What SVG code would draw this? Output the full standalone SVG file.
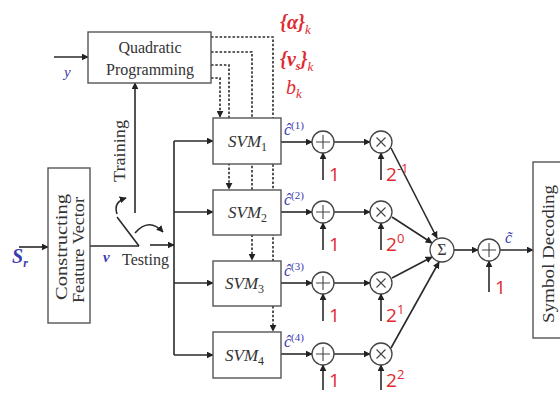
<svg xmlns="http://www.w3.org/2000/svg" width="560" height="396" viewBox="0 0 560 396">
<defs>
<marker id="ah" viewBox="0 0 10 10" refX="9" refY="5" markerWidth="7" markerHeight="7" markerUnits="userSpaceOnUse" orient="auto"><path d="M0,0 L10,5 L0,10 z" fill="#222"/></marker>
<style>
.box{fill:#fff;stroke:#555;stroke-width:1.4}
.ln{fill:none;stroke:#2a2a2a;stroke-width:1.6}
.dt{fill:none;stroke:#2a2a2a;stroke-width:1.6;stroke-dasharray:2.5,1.8}
.circ{fill:#fff;stroke:#444;stroke-width:1.3}
.op{stroke:#444;stroke-width:1.1}
.t{font-family:"Liberation Serif",serif;font-size:16px;fill:#333}
.svm{font-family:"Liberation Serif",serif;font-style:italic;font-size:17px;fill:#333}
.red{font-family:"Open Sans","Noto Sans",sans-serif;font-size:19px;fill:#e02a30}
.redi{font-family:"Liberation Serif",serif;font-style:italic;font-size:20px;fill:#e02a30}
.blue{font-family:"Liberation Serif",serif;font-style:italic;fill:#3b3bb0}
</style>
</defs>
<rect width="560" height="396" fill="#fff"/>

<g id="connectors">
<line class="ln" x1="54" y1="57" x2="88" y2="57" marker-end="url(#ah)"/>
<line class="ln" x1="19" y1="247" x2="48" y2="247" marker-end="url(#ah)"/>
<line class="ln" x1="90" y1="246" x2="139" y2="246"/>
<line class="ln" x1="117" y1="217" x2="139" y2="246"/>
<line class="ln" x1="150" y1="245" x2="174" y2="245" marker-end="url(#ah)"/>
<line class="ln" x1="135" y1="213" x2="135" y2="83" marker-end="url(#ah)"/>
<path class="ln" d="M117,214 Q113,202 126,198" marker-end="url(#ah)"/>
<path class="ln" d="M135,233 Q149,217 163,232" marker-end="url(#ah)"/>
<line class="ln" x1="174" y1="141" x2="174" y2="355"/>
<line class="ln" x1="174" y1="141" x2="213" y2="141" marker-end="url(#ah)"/>
<line class="ln" x1="174" y1="212" x2="213" y2="212" marker-end="url(#ah)"/>
<line class="ln" x1="174" y1="283" x2="213" y2="283" marker-end="url(#ah)"/>
<line class="ln" x1="174" y1="355" x2="213" y2="355" marker-end="url(#ah)"/>

<polyline class="dt" points="211,37 273,37 273,331" marker-end="url(#ah)"/>
<polyline class="dt" points="211,52 252,52 252,260" marker-end="url(#ah)"/>
<polyline class="dt" points="211,65 229,65 229,189" marker-end="url(#ah)"/>
<polyline class="dt" points="211,78 220,78 220,117" marker-end="url(#ah)"/>

<line class="ln" x1="281" y1="142" x2="312" y2="142" marker-end="url(#ah)"/>
<line class="ln" x1="334" y1="142" x2="370" y2="142" marker-end="url(#ah)"/>
<line class="ln" x1="323" y1="180" x2="323" y2="153" marker-end="url(#ah)"/>
<line class="ln" x1="381" y1="180" x2="381" y2="153" marker-end="url(#ah)"/>

<line class="ln" x1="281" y1="212" x2="312" y2="212" marker-end="url(#ah)"/>
<line class="ln" x1="334" y1="212" x2="370" y2="212" marker-end="url(#ah)"/>
<line class="ln" x1="323" y1="250" x2="323" y2="223" marker-end="url(#ah)"/>
<line class="ln" x1="381" y1="250" x2="381" y2="223" marker-end="url(#ah)"/>

<line class="ln" x1="281" y1="283" x2="312" y2="283" marker-end="url(#ah)"/>
<line class="ln" x1="334" y1="283" x2="370" y2="283" marker-end="url(#ah)"/>
<line class="ln" x1="323" y1="321" x2="323" y2="294" marker-end="url(#ah)"/>
<line class="ln" x1="381" y1="321" x2="381" y2="294" marker-end="url(#ah)"/>

<line class="ln" x1="281" y1="354" x2="312" y2="354" marker-end="url(#ah)"/>
<line class="ln" x1="334" y1="354" x2="370" y2="354" marker-end="url(#ah)"/>
<line class="ln" x1="323" y1="390" x2="323" y2="365" marker-end="url(#ah)"/>
<line class="ln" x1="381" y1="390" x2="381" y2="365" marker-end="url(#ah)"/>

<line class="ln" x1="391" y1="148" x2="437" y2="238" marker-end="url(#ah)"/>
<line class="ln" x1="392" y1="217" x2="432" y2="243" marker-end="url(#ah)"/>
<line class="ln" x1="392" y1="278" x2="432" y2="257" marker-end="url(#ah)"/>
<line class="ln" x1="391" y1="348" x2="439" y2="262" marker-end="url(#ah)"/>

<line class="ln" x1="454" y1="250" x2="478" y2="250" marker-end="url(#ah)"/>
<line class="ln" x1="500" y1="250" x2="533" y2="250" marker-end="url(#ah)"/>
<line class="ln" x1="489" y1="292" x2="489" y2="261" marker-end="url(#ah)"/>
</g>

<g id="qp">
<rect class="box" x="88" y="32" width="123" height="51"/>
<text class="t" x="150" y="53" text-anchor="middle">Quadratic</text>
<text class="t" x="150" y="75" text-anchor="middle">Programming</text>
</g>
<text class="blue" x="64" y="77" font-size="15">y</text>

<g id="cfv">
<rect class="box" x="48" y="168" width="42" height="155"/>
<text class="t" font-size="18" transform="translate(67,247) rotate(-90)" text-anchor="middle" textLength="106" lengthAdjust="spacingAndGlyphs">Constructing</text>
<text class="t" font-size="18" transform="translate(84,250) rotate(-90)" text-anchor="middle" textLength="106" lengthAdjust="spacingAndGlyphs">Feature Vector</text>
</g>
<text class="blue" x="12" y="263" font-size="20" font-weight="bold">S<tspan font-size="12" dy="4">r</tspan></text>
<text class="blue" x="103" y="262" font-size="15" font-weight="bold">v</text>
<text class="t" x="122" y="265">Testing</text>
<text class="t" font-size="17" transform="translate(125,151) rotate(-90)" text-anchor="middle" textLength="62" lengthAdjust="spacingAndGlyphs">Training</text>

<g id="svm1">
<rect class="box" x="213" y="118" width="68" height="46"/>
<text class="svm" x="228" y="147">SVM<tspan font-size="12" font-style="normal" dy="4">1</tspan></text>
</g>
<g id="svm2">
<rect class="box" x="213" y="190" width="68" height="45"/>
<text class="svm" x="228" y="218">SVM<tspan font-size="12" font-style="normal" dy="4">2</tspan></text>
</g>
<g id="svm3">
<rect class="box" x="213" y="261" width="68" height="45"/>
<text class="svm" x="225" y="289">SVM<tspan font-size="12" font-style="normal" dy="4">3</tspan></text>
</g>
<g id="svm4">
<rect class="box" x="213" y="332" width="68" height="46"/>
<text class="svm" x="225" y="361">SVM<tspan font-size="12" font-style="normal" dy="4">4</tspan></text>
</g>

<text class="redi" x="280" y="29" font-weight="bold">{α}<tspan font-size="13" dy="5" font-weight="normal">k</tspan></text>
<text class="redi" x="280" y="66" font-weight="bold">{v<tspan font-size="12" dy="4">s</tspan><tspan dy="-4">}</tspan><tspan font-size="13" dy="5" font-weight="normal">k</tspan></text>
<text class="redi" x="286" y="94">b<tspan font-size="13" dy="4">k</tspan></text>

<g id="labels-c">
<text class="blue" x="284" y="135" font-size="16">ĉ<tspan font-size="11" font-style="normal" dy="-6">(1)</tspan></text>
<text class="blue" x="284" y="205" font-size="16">ĉ<tspan font-size="11" font-style="normal" dy="-6">(2)</tspan></text>
<text class="blue" x="284" y="276" font-size="16">ĉ<tspan font-size="11" font-style="normal" dy="-6">(3)</tspan></text>
<text class="blue" x="284" y="347" font-size="16">ĉ<tspan font-size="11" font-style="normal" dy="-6">(4)</tspan></text>
</g>

<g id="add1"><circle class="circ" cx="323" cy="142" r="11"/><path class="op" d="M316,142 H330 M323,135 V149"/></g>
<g id="mul1"><circle class="circ" cx="381" cy="142" r="11"/><path class="op" d="M376.5,137.5 L385.5,146.5 M385.5,137.5 L376.5,146.5"/></g>
<g id="add2"><circle class="circ" cx="323" cy="212" r="11"/><path class="op" d="M316,212 H330 M323,205 V219"/></g>
<g id="mul2"><circle class="circ" cx="381" cy="212" r="11"/><path class="op" d="M376.5,207.5 L385.5,216.5 M385.5,207.5 L376.5,216.5"/></g>
<g id="add3"><circle class="circ" cx="323" cy="283" r="11"/><path class="op" d="M316,283 H330 M323,276 V290"/></g>
<g id="mul3"><circle class="circ" cx="381" cy="283" r="11"/><path class="op" d="M376.5,278.5 L385.5,287.5 M385.5,278.5 L376.5,287.5"/></g>
<g id="add4"><circle class="circ" cx="323" cy="354" r="11"/><path class="op" d="M316,354 H330 M323,347 V361"/></g>
<g id="mul4"><circle class="circ" cx="381" cy="354" r="11"/><path class="op" d="M376.5,349.5 L385.5,358.5 M385.5,349.5 L376.5,358.5"/></g>

<text class="red" x="329" y="181">1</text>
<text class="red" x="386" y="181">2<tspan font-size="13" dy="-8">-1</tspan></text>
<text class="red" x="329" y="251">1</text>
<text class="red" x="386" y="251">2<tspan font-size="13" dy="-8">0</tspan></text>
<text class="red" x="329" y="322">1</text>
<text class="red" x="386" y="322">2<tspan font-size="13" dy="-8">1</tspan></text>
<text class="red" x="329" y="387">1</text>
<text class="red" x="386" y="387">2<tspan font-size="13" dy="-8">2</tspan></text>

<g id="sum"><circle class="circ" cx="442" cy="250" r="12"/><text class="t" x="442" y="255" font-size="14" text-anchor="middle">Σ</text></g>
<g id="add5"><circle class="circ" cx="489" cy="250" r="11"/><path class="op" d="M482,250 H496 M489,243 V257"/></g>
<text class="red" x="495" y="294">1</text>
<text class="blue" x="505" y="243" font-size="16">c̃</text>

<g id="decode">
<rect class="box" x="533" y="162" width="40" height="176"/>
<text class="t" font-size="18" transform="translate(554,254) rotate(-90)" text-anchor="middle" textLength="138" lengthAdjust="spacingAndGlyphs">Symbol Decoding</text>
</g>
</svg>
